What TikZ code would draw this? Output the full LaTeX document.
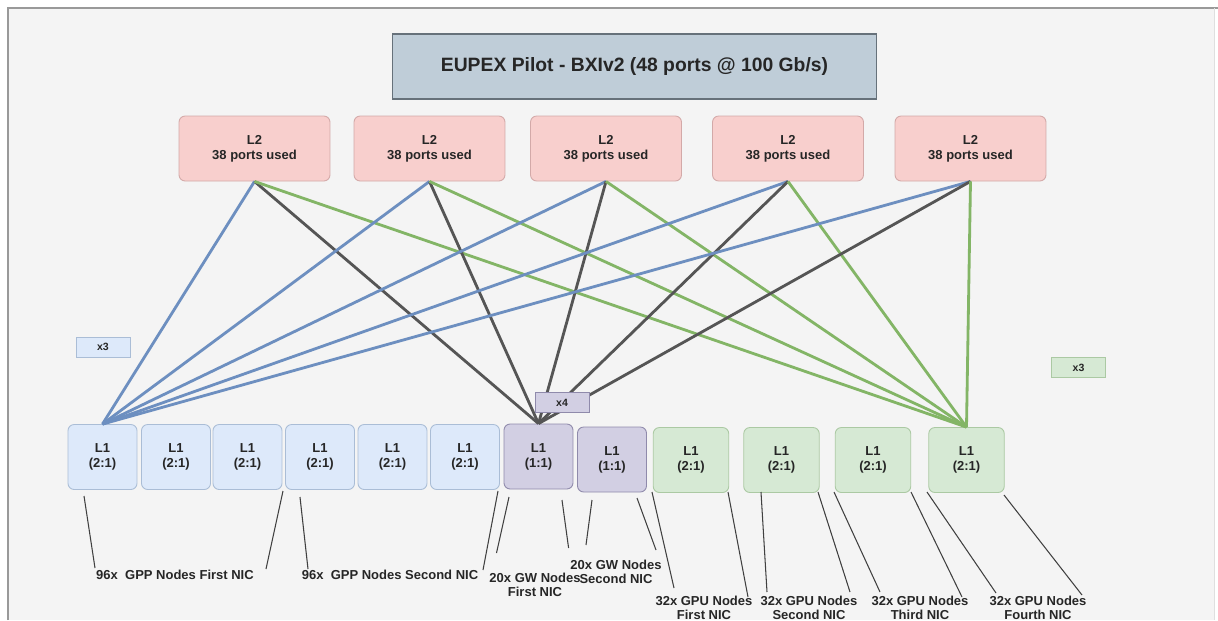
\documentclass[tikz,border=0pt]{standalone}
\usepackage{fontspec}
\setmainfont{Liberation Sans}
\usepackage{tikz}
\definecolor{pagebg}{HTML}{F4F4F4}
\definecolor{titlefill}{HTML}{BFCDD8}
\definecolor{titleline}{HTML}{66717A}
\definecolor{ltwofill}{HTML}{F8CFCD}
\definecolor{ltwoline}{HTML}{D3A9A8}
\definecolor{bluefill}{HTML}{DDE9FA}
\definecolor{blueline}{HTML}{AABDD6}
\definecolor{purplefill}{HTML}{D2CFE3}
\definecolor{purpleline}{HTML}{8F8AAB}
\definecolor{greenfill}{HTML}{D6E9D4}
\definecolor{greenline}{HTML}{ABC9A3}
\definecolor{busblue}{HTML}{6D8FC0}
\definecolor{busgray}{HTML}{555555}
\definecolor{busgreen}{HTML}{83B566}

\begin{document}
\begin{tikzpicture}[x=0.02cm,y=-0.02cm,
	every node/.style={font=\bfseries\fontsize{7.4}{8.6}\selectfont,text=black!85},
	ltwo/.style={draw=ltwoline,fill=ltwofill,rounded corners=3.5pt,minimum width=3.02cm,minimum height=1.3cm,align=center,line width=0.5pt},
	lone/.style={rounded corners=3.5pt,minimum width=1.38cm,minimum height=1.3cm,align=center,line width=0.5pt},
	bluebox/.style={lone,draw=blueline,fill=bluefill},
	purplebox/.style={lone,draw=purpleline,fill=purplefill},
	greenbox/.style={lone,draw=greenline,fill=greenfill,minimum width=1.51cm},
	tag/.style={minimum width=1.08cm,minimum height=0.4cm,inner sep=0pt,line width=0.5pt,font=\bfseries\fontsize{6}{7}\selectfont},
	bus/.style={line width=1.6pt},
	leader/.style={draw=black!75,line width=0.6pt},
	lbl/.style={align=center,inner sep=1pt,font=\bfseries\fontsize{7.4}{8.2}\selectfont}]
	\useasboundingbox (0,0) rectangle (1218,620);
	\fill[pagebg] (8,8) rectangle (1214,620);
	\draw[gray!80,line width=1pt] (8,620)--(8,8)--(1218,8);
	\draw[gray!25] (1214,8)--(1214,620);

	\node[draw=titleline,fill=titlefill,minimum width=9.7cm,minimum height=1.3cm,line width=0.6pt,font=\bfseries\fontsize{11}{13}\selectfont] (title) at (634.5,66.5) {EUPEX Pilot - BXIv2 (48 ports @ 100 Gb/s)};

	\foreach \x [count=\i] in {254.5,429.5,606,788,970.5}
		\node[ltwo] (ltwo\i) at (\x,148.5) {L2\\38 ports used};
	\foreach \x [count=\i] in {102.5,176,247.5,320,392.5,465}
		\node[bluebox] (b\i) at (\x,457) {L1\\(2:1)};
	\node[purplebox] (p1) at (538.5,456.5) {L1\\(1:1)};
	\node[purplebox] (p2) at (612,459.5) {L1\\(1:1)};
	\foreach \x [count=\i] in {691,781.5,873,966.5}
		\node[greenbox] (g\i) at (\x,460) {L1\\(2:1)};

	\foreach \i in {1,...,5} {
		\draw[bus,busblue] (ltwo\i.south) -- (b1.north);
		\draw[bus,busgray] (ltwo\i.south) -- (p1.north);
		\draw[bus,busgreen] (ltwo\i.south) -- (g4.north);
	}

	\node[tag,draw=blueline,fill=bluefill] (xthreeb) at (103,347) {x3};
	\node[tag,draw=purpleline,fill=purplefill] (xfour) at (562,402.5) {x4};
	\node[tag,draw=greenline,fill=greenfill] (xthreeg) at (1078.5,367.5) {x3};

	\node[lbl] (gpp1) at (175,575) {96x\ \ GPP Nodes First NIC};
	\node[lbl] (gpp2) at (390,575) {96x\ \ GPP Nodes Second NIC};
	\node[lbl] (gw1) at (535,585) {20x GW Nodes\\First NIC};
	\node[lbl] (gw2) at (616,572) {20x GW Nodes\\Second NIC};
	\node[lbl] (gpu1) at (704,608) {32x GPU Nodes\\First NIC};
	\node[lbl] (gpu2) at (809,608) {32x GPU Nodes\\Second NIC};
	\node[lbl] (gpu3) at (920,608) {32x GPU Nodes\\Third NIC};
	\node[lbl] (gpu4) at (1038,608) {32x GPU Nodes\\Fourth NIC};

	\coordinate (a1) at (84,496);   \coordinate (a2) at (283,491);
	\coordinate (a3) at (300,497);  \coordinate (a4) at (498,491);
	\coordinate (a5) at (509,497);  \coordinate (a6) at (562,500);
	\coordinate (a7) at (592,500);  \coordinate (a8) at (637,498);
	\coordinate (a9) at (652,492);  \coordinate (a10) at (728,492);
	\coordinate (a11) at (761,492); \coordinate (a12) at (818,492);
	\coordinate (a13) at (834,492); \coordinate (a14) at (911,492);
	\coordinate (a15) at (927,492); \coordinate (a16) at (1004,495);

	\draw[leader] (a1) -- ([shift={(-80,-7)}]gpp1.center);
	\draw[leader] (a2) -- ([shift={(91,-6)}]gpp1.center);
	\draw[leader] (a3) -- ([shift={(-82,-6)}]gpp2.center);
	\draw[leader] (a4) -- ([shift={(93,-5)}]gpp2.center);
	\draw[leader] (a5) -- ([shift={(-38.5,-32)}]gw1.center);
	\draw[leader] (a6) -- ([shift={(33.6,-37)}]gw1.center);
	\draw[leader] (a7) -- ([shift={(-30,-27)}]gw2.center);
	\draw[leader] (a8) -- ([shift={(40,-22)}]gw2.center);
	\draw[leader] (a9) -- ([shift={(-30,-20)}]gpu1.center);
	\draw[leader] (a10) -- ([shift={(44,-11)}]gpu1.center);
	\draw[leader] (a11) -- ([shift={(-42,-16)}]gpu2.center);
	\draw[leader] (a12) -- ([shift={(41,-16)}]gpu2.center);
	\draw[leader] (a13) -- ([shift={(-40,-16)}]gpu3.center);
	\draw[leader] (a14) -- ([shift={(42,-11)}]gpu3.center);
	\draw[leader] (a15) -- ([shift={(-42,-15)}]gpu4.center);
	\draw[leader] (a16) -- ([shift={(44,-13)}]gpu4.center);
\end{tikzpicture}
\end{document}
